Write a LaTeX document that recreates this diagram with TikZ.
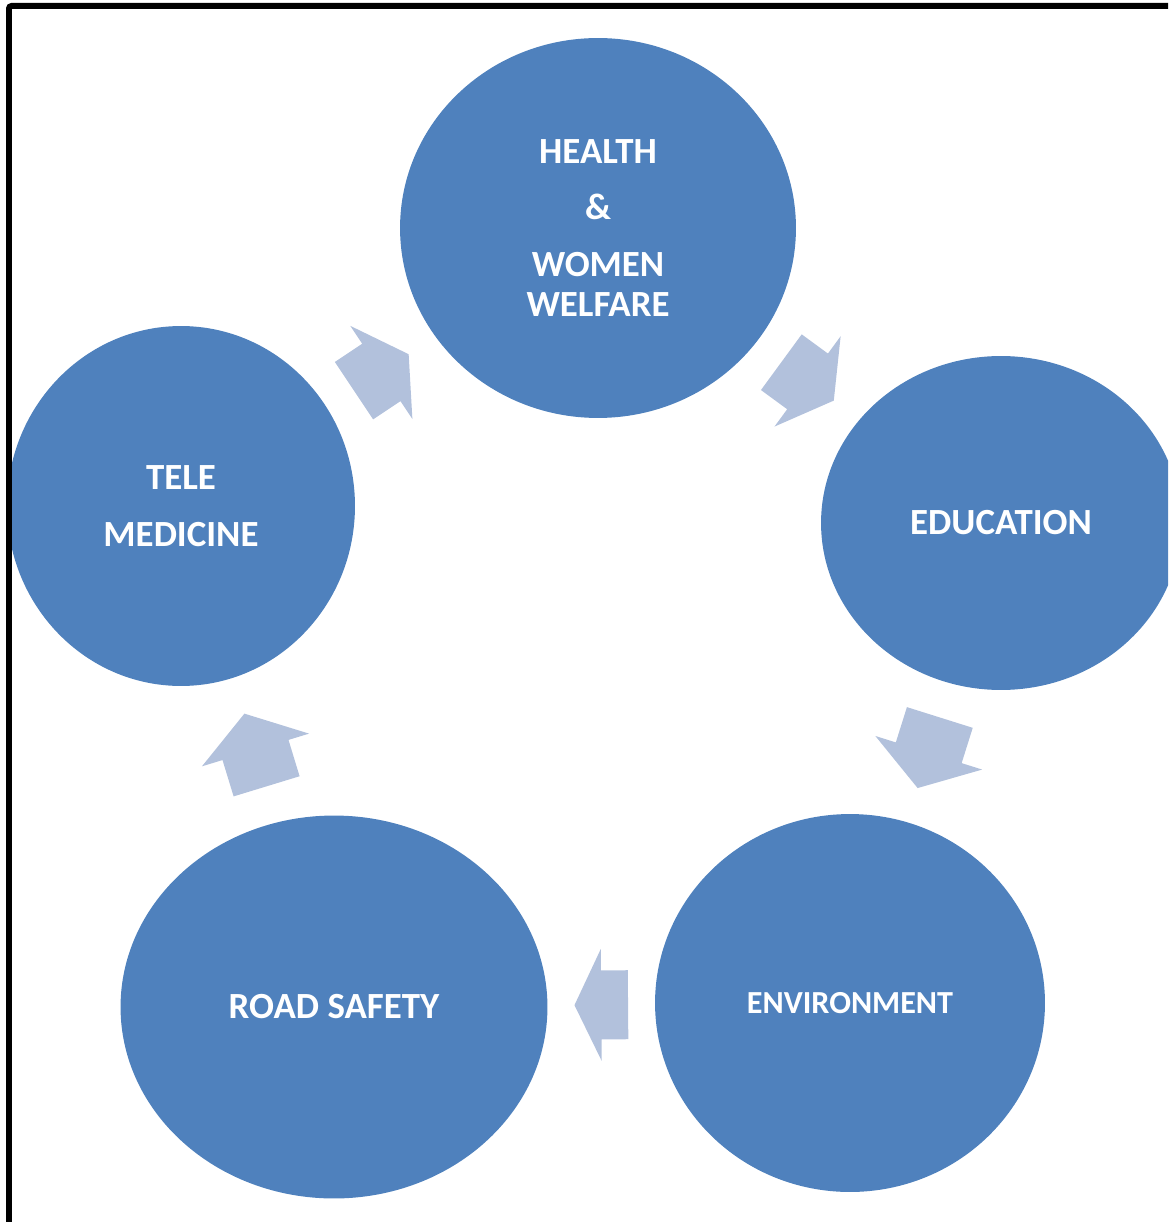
\documentclass[tikz,border=0pt]{standalone}
\usepackage{fontspec}
\setmainfont{Carlito}
\usetikzlibrary{shapes.geometric}
\definecolor{kreisblau}{HTML}{4F81BD}
\definecolor{pfeilblau}{HTML}{B2C1DC}
\tikzset{
  kreis/.style={ellipse, fill=kreisblau, text=white, align=center, inner sep=0pt,
    font=\fontsize{21}{23.2}\selectfont\bfseries},
  pics/pfeil/.style={code={
    \fill[pfeilblau] (-#1/2,-34.5) -- (0,-34.5) -- (0,-56) -- (#1/2,0)
      -- (0,56) -- (0,34.5) -- (-#1/2,34.5) -- cycle;}}
}
\begin{document}
\begin{tikzpicture}[x=0.02cm, y=-0.02cm]
\useasboundingbox (0,0) rectangle (1168,1222);
\clip (0,0) rectangle (1168,1222);
% Kreise
\node[kreis, minimum width=7.92cm, minimum height=7.6cm] (health) at (598,228)
  {HEALTH\\[9pt]\&\\[9pt]WOMEN\\WELFARE};
\node[kreis, minimum width=7.2cm, minimum height=6.68cm] (education) at (1001,523) {EDUCATION};
\node[kreis, minimum width=7.8cm, minimum height=7.56cm,
  font=\fontsize{18.3}{22}\selectfont\bfseries] (environment) at (850,1003) {ENVIRONMENT};
\node[kreis, minimum width=8.54cm, minimum height=7.66cm] (road) at (334,1007) {ROAD SAFETY};
\node[kreis, minimum width=6.96cm, minimum height=7.2cm] (tele) at (181,506)
  {TELE\\[9pt]MEDICINE};
% Pfeile
\path (tele) -- pic[midway, sloped, allow upside down]{pfeil=65.7} (health);
\path (health) -- pic[midway, sloped, allow upside down]{pfeil=65} (education);
\path (education) -- pic[midway, sloped, allow upside down]{pfeil=74} (environment);
\path (environment) -- pic[midway, sloped, allow upside down]{pfeil=53.6} (road);
\path (road) -- pic[midway, sloped, allow upside down]{pfeil=76} (tele);
% Rahmen
\draw[line width=0.12cm, rounded corners=1.5pt] (9,6) rectangle (1250,1300);
\end{tikzpicture}
\end{document}
